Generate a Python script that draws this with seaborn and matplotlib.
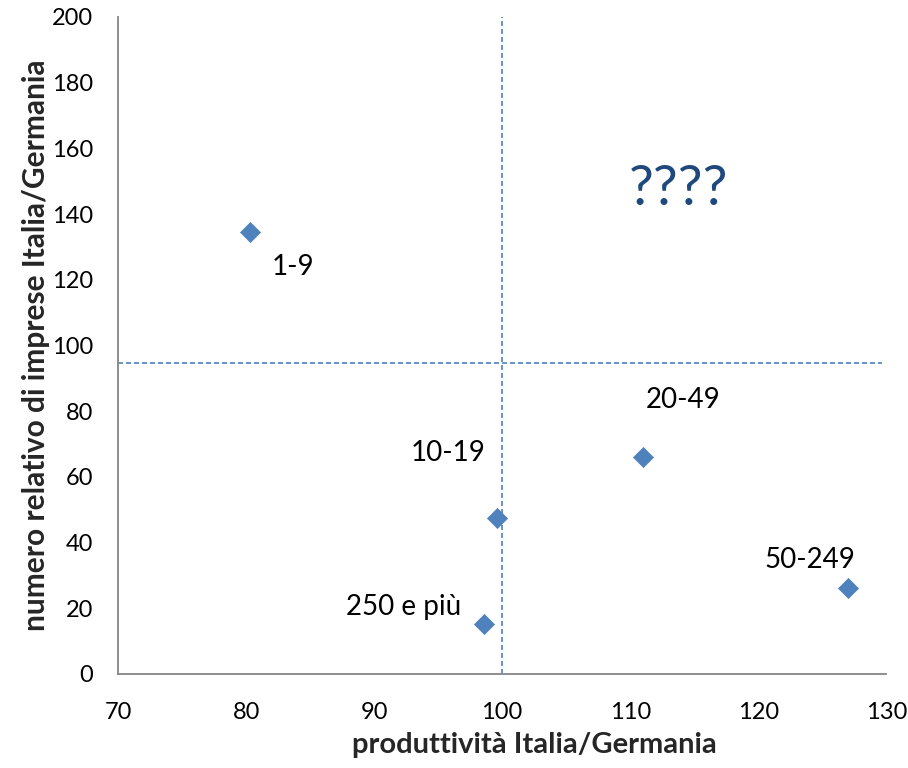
import numpy as np
import pandas as pd
import matplotlib
matplotlib.use("Agg")
import matplotlib.pyplot as plt
import seaborn as sns

# classi dimensionali (numero di addetti)
classi = ["1-9", "10-19", "20-49", "50-249", "250 e più"]
produttivita = [80.3, 99.6, 111.0, 127.0, 98.6]   # Italia/Germania
num_imprese = [134.5, 47.6, 66.1, 26.2, 15.1]     # Italia/Germania

# posizione delle etichette rispetto al punto (in punti)
offset_etichette = [(31, -23), (-35, 48), (29, 43), (-27, 22), (-58, 14)]

soglia_x = 100
soglia_y = 94.7

x_ticks = [70, 80, 90, 100, 110, 120, 130]
y_ticks = [0, 20, 40, 60, 80, 100, 120, 140, 160, 180, 200]

blu = "#4F81BD"
grigio = "#868686"

df = pd.DataFrame({"classe": classi, "x": produttivita, "y": num_imprese})

sns.set_theme(style="white")
plt.rcParams["font.family"] = ["Lato", "DejaVu Sans"]

fig = plt.figure(figsize=(9.08, 7.68), dpi=100)
ax = fig.add_axes([0.130, 0.1224, 0.846, 0.8555])

# linee di riferimento tratteggiate
ax.plot([soglia_x, soglia_x], [y_ticks[0], y_ticks[-1]], color=blu, lw=1.2,
        dashes=(3, 1.8), zorder=1)
ax.plot([x_ticks[0], 129.7], [soglia_y, soglia_y], color=blu, lw=1.2,
        dashes=(3, 1.8), zorder=1)

sns.scatterplot(data=df, x="x", y="y", marker="D", s=105, color=blu,
                edgecolor=blu, linewidth=0.5, ax=ax, zorder=3)

for c, xv, yv, off in zip(classi, produttivita, num_imprese, offset_etichette):
    ax.annotate(c, (xv, yv), xytext=off, textcoords="offset points",
                ha="center", va="center_baseline", fontsize=20, color="black")

ax.text(113.8, 147.5, "????", fontsize=40, color="#1F497D",
        ha="center", va="center")

ax.set_xlim(x_ticks[0], x_ticks[-1])
ax.set_ylim(y_ticks[0], y_ticks[-1])
ax.set_xticks(x_ticks)
ax.set_yticks(y_ticks)
ax.tick_params(axis="both", length=0, labelsize=17, colors="black")
ax.tick_params(axis="x", pad=20)
ax.tick_params(axis="y", pad=18)

for s in ["top", "right"]:
    ax.spines[s].set_visible(False)
for s in ["left", "bottom"]:
    ax.spines[s].set_color(grigio)
    ax.spines[s].set_linewidth(1.3)

ax.set_xlabel("produttività Italia/Germania", fontsize=21, fontweight="bold")
ax.set_ylabel("numero relativo di imprese Italia/Germania", fontsize=21.5,
              fontweight="bold")
ax.xaxis.set_label_coords(0.542, -0.089)
ax.yaxis.set_label_coords(-0.089, 0.5)

fig.savefig("out.png", dpi=100)
